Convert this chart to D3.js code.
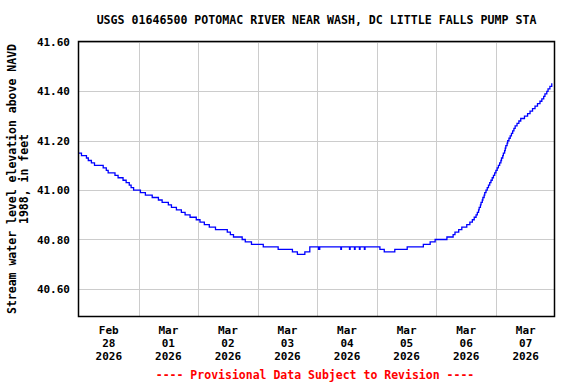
<!DOCTYPE html>
<html>
<head>
<meta charset="utf-8">
<script src="https://cdn.jsdelivr.net/npm/d3@7"></script>
<style>
body { margin: 0; background: #fff; }
text { font-family: "DejaVu Sans Mono", monospace; font-weight: bold; }
</style>
</head>
<body>
<script>
// step change points: hours after 2026-02-28 00:00, gage height (ft)
var stepHours = [0, 1, 3, 3.75, 5, 6.25, 9.75, 11, 11.75, 14.5, 15.75, 17.75, 19, 20.25, 21, 22,
  24.75, 26.75, 29.5, 32, 33.5, 36, 37.25, 39.25, 41.25, 42.75, 44.75, 47.25,
  48.75, 50.5, 52.5, 55, 59.75, 61, 62.25, 65.75, 67, 69.5,
  74.25, 80.25, 86, 88, 91, 93,
  96.5, 97, 105.5, 105.75, 109, 109.25, 111, 111.25, 113, 113.25, 115, 115.25,
  121.25, 123, 127.25, 132.25, 138.75, 141.5, 143.5,
  148.25, 150.75, 151.5, 153, 154.25, 156.25, 157.5, 158.5, 159.25, 160, 160.5, 161, 161.25, 161.75, 162, 162.5, 162.75, 163.25, 163.5,
  164, 164.5, 165, 165.5, 166, 166.5, 167, 167.5, 168, 168.5, 169, 169.5, 170, 170.25, 170.75, 171, 171.5, 171.75,
  172, 172.5, 172.75, 173.25, 173.75, 174.25, 174.75, 175.25, 175.75, 176.5, 177.25, 178, 179.5, 180.75, 181.75, 182.75, 183.75, 184.75, 185.75, 186.5, 187.25, 187.75, 188.5, 189, 189.75, 190.5, 190.75];
var stepValues = [41.15, 41.14, 41.13, 41.12, 41.11, 41.10, 41.09, 41.08, 41.07, 41.06, 41.05, 41.04, 41.03, 41.02, 41.01, 41.00,
  40.99, 40.98, 40.97, 40.96, 40.95, 40.94, 40.93, 40.92, 40.91, 40.90, 40.89, 40.88,
  40.87, 40.86, 40.85, 40.84, 40.83, 40.82, 40.81, 40.80, 40.79, 40.78,
  40.77, 40.76, 40.75, 40.74, 40.75, 40.77,
  40.76, 40.77, 40.76, 40.77, 40.76, 40.77, 40.76, 40.77, 40.76, 40.77, 40.76, 40.77,
  40.76, 40.75, 40.76, 40.77, 40.78, 40.79, 40.80,
  40.81, 40.82, 40.83, 40.84, 40.85, 40.86, 40.87, 40.88, 40.89, 40.90, 40.91, 40.92, 40.93, 40.94, 40.95, 40.96, 40.97, 40.98, 40.99,
  41.00, 41.01, 41.02, 41.03, 41.04, 41.05, 41.06, 41.07, 41.08, 41.09, 41.10, 41.11, 41.12, 41.13, 41.14, 41.15, 41.16, 41.17,
  41.18, 41.19, 41.20, 41.21, 41.22, 41.23, 41.24, 41.25, 41.26, 41.27, 41.28, 41.29, 41.30, 41.31, 41.32, 41.33, 41.34, 41.35, 41.36, 41.37, 41.38, 41.39, 41.40, 41.41, 41.42, 41.43, 41.43];

var yTicks = [40.6, 40.8, 41.0, 41.2, 41.4, 41.6];
var dayLabels = [["Feb", "28", "2026"], ["Mar", "01", "2026"], ["Mar", "02", "2026"], ["Mar", "03", "2026"],
  ["Mar", "04", "2026"], ["Mar", "05", "2026"], ["Mar", "06", "2026"], ["Mar", "07", "2026"]];

var titleText = "USGS 01646500 POTOMAC RIVER NEAR WASH, DC LITTLE FALLS PUMP STA";
var yLabel = ["Stream water level elevation above NAVD", "1988, in feet"];
var footText = "---- Provisional Data Subject to Revision ----";

function drawChart()
{
    var width = 576, height = 384;
    var left = 79, right = 554, top = 42, bottom = 316;

    var svg = d3.select("body").append("svg")
        .attr("width", width)
        .attr("height", height);

    var start = new Date(2026, 1, 28, 0, 0);
    var hr = 3600 * 1000;
    var x = d3.scaleTime()
        .domain([start, new Date(+start + 191.4 * hr)])
        .range([left, right]);
    var y = d3.scaleLinear()
        .domain([40.49, 41.6])
        .range([bottom, top]);

    // gridlines
    var days = d3.range(1, 8).map(function (i) { return new Date(+start + i * 24 * hr); });
    svg.append("g")
        .attr("transform", "translate(0," + bottom + ")")
        .call(d3.axisBottom(x).tickValues(days).tickSize(-(bottom - top)).tickFormat(""))
        .call(function (g) {
            g.select(".domain").remove();
            g.selectAll("line").attr("stroke", "#cccccc").attr("shape-rendering", "crispEdges");
        });

    var yAxis = svg.append("g")
        .attr("transform", "translate(" + left + ",0)")
        .call(d3.axisLeft(y).tickValues(yTicks).tickSize(-(right - left)).tickPadding(9).tickFormat(d3.format(".2f")));
    yAxis.select(".domain").remove();
    yAxis.selectAll("line").attr("stroke", "#cccccc").attr("shape-rendering", "crispEdges");
    yAxis.selectAll("text").attr("font-size", "11px").attr("fill", "#000")
        .attr("font-family", "DejaVu Sans Mono").attr("font-weight", "bold");

    // data line
    var data = stepHours.map(function (h, i) { return { t: new Date(+start + h * hr), v: stepValues[i] }; });
    var line = d3.line()
        .x(function (d) { return x(d.t); })
        .y(function (d) { return y(d.v); })
        .curve(d3.curveStepAfter);
    svg.append("path")
        .datum(data)
        .attr("fill", "none")
        .attr("stroke", "#0000ff")
        .attr("stroke-width", 1.3)
        .attr("d", line);

    // frame
    svg.append("rect")
        .attr("x", left - 0.5).attr("y", top - 0.5)
        .attr("width", right - left + 1).attr("height", bottom - top + 1)
        .attr("fill", "none").attr("stroke", "#000").attr("stroke-width", 1.5);

    // x labels at noon
    var noons = d3.range(0, 8).map(function (i) { return new Date(+start + (i * 24 + 12) * hr); });
    var xl = svg.append("g").selectAll("text")
        .data(noons)
        .enter()
        .append("text")
        .attr("text-anchor", "middle")
        .attr("font-size", "11px")
        .attr("x", function (d) { return x(d); })
        .attr("y", 334);
    xl.each(function (d, i) {
        var t = d3.select(this);
        dayLabels[i].forEach(function (s, j) {
            t.append("tspan").attr("x", x(d)).attr("y", 334 + j * 13).text(s);
        });
    });

    // title
    svg.append("text")
        .attr("x", (left + right) / 2).attr("y", 24)
        .attr("text-anchor", "middle")
        .attr("font-size", "11.6px")
        .text(titleText);

    // y label
    var yl = svg.append("text")
        .attr("transform", "translate(16," + ((top + bottom) / 2) + ") rotate(-90)")
        .attr("text-anchor", "middle")
        .attr("font-size", "11.5px");
    yl.append("tspan").attr("x", 0).attr("y", 0).text(yLabel[0]);
    yl.append("tspan").attr("x", 0).attr("y", 12).text(yLabel[1]);

    // footer
    svg.append("text")
        .attr("x", 315).attr("y", 379)
        .attr("text-anchor", "middle")
        .attr("font-size", "11.5px")
        .attr("fill", "#ff0000")
        .text(footText);
}
window.onload = drawChart;
</script>
</body>
</html>
